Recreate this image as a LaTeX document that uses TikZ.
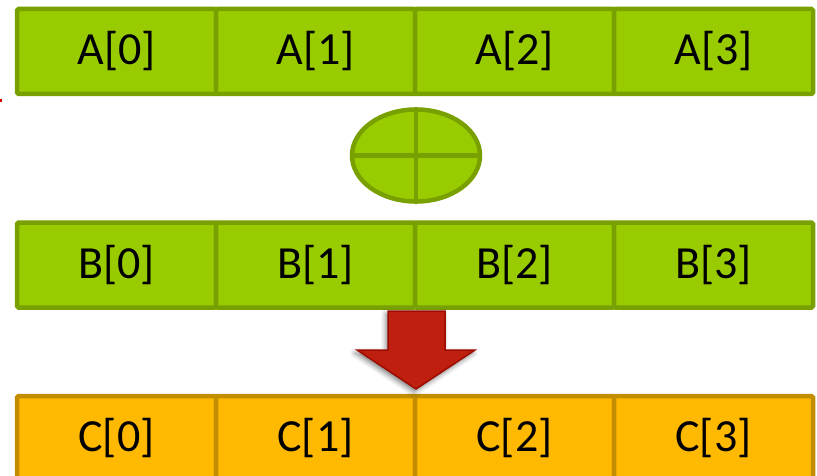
\documentclass[tikz,border=0pt]{standalone}
\usepackage{fontspec}
\setmainfont{Carlito}
\usetikzlibrary{shapes.geometric,shadows.blur,calc}
\definecolor{gfill}{HTML}{99CC00}
\definecolor{gline}{HTML}{77A000}
\definecolor{ofill}{HTML}{FFB900}
\definecolor{oline}{HTML}{C28E00}
\definecolor{rfill}{HTML}{BF1F0E}
\definecolor{rline}{HTML}{9C0C00}
\tikzset{
  cellg/.style={draw=gline, fill=gfill, line width=4.5pt, minimum width=199pt, minimum height=85pt, inner sep=0pt, font=\fontsize{46}{50}\selectfont, rounded corners=1.5pt},
  cello/.style={cellg, draw=oline, fill=ofill},
}
\begin{document}
\begin{tikzpicture}[x=1pt,y=1pt]
\useasboundingbox (0,0) rectangle (817,-476);
\foreach \i/\x in {0/116.5,1/315.5,2/514.5,3/713.5}{
  \node[cellg] (a\i) at (\x,-51.5) {A[\i]};
  \node[cellg] (b\i) at (\x,-265) {B[\i]};
  \node[cello] (c\i) at (\x,-438.5) {C[\i]};
}
\node[ellipse, draw=gline, fill=gfill, line width=4.5pt, minimum width=128pt, minimum height=92pt, inner sep=0pt] (op) at (416,-155.5) {};
\draw[gline, line width=4.5pt] (op.north) -- (op.south);
\draw[gline, line width=4.5pt] (op.west) -- (op.east);
\coordinate (tip) at (416,-389);
\draw[rline, line width=1.5pt, fill=rfill, line join=miter,
  blur shadow={shadow xshift=-2pt, shadow yshift=-3pt, shadow blur radius=5pt, shadow opacity=50}]
  (388,-311) -- (445,-311) -- (445,-350) -- (475,-350) -- (tip) -- (357,-350) -- (388,-350) -- cycle;
\fill[red!85!black] (0,-99.5) rectangle (2,-102);
\end{tikzpicture}
\end{document}
